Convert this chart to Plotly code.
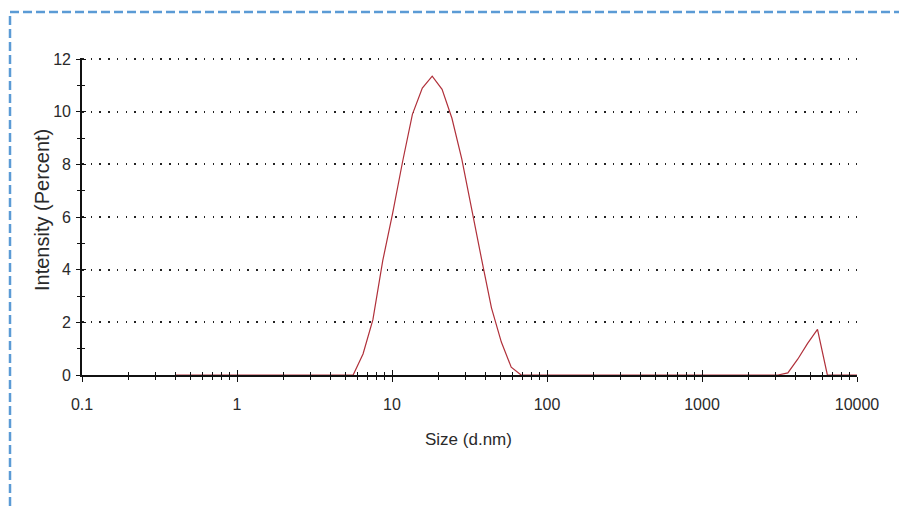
import plotly.graph_objects as go

# Size classes (d.nm) of the intensity distribution
size_nm = [0.4, 0.4632, 0.5365, 0.6213, 0.7195, 0.8332, 0.9649, 1.117, 1.294, 1.499,
           1.736, 2.01, 2.328, 2.696, 3.122, 3.615, 4.187, 4.849, 5.615, 6.503,
           7.531, 8.721, 10.1, 11.7, 13.54, 15.69, 18.17, 21.04, 24.36, 28.21,
           32.67, 37.84, 43.82, 50.75, 58.77, 68.06, 78.82, 91.28, 105.7, 122.4,
           141.8, 164.2, 190.1, 220.2, 255.0, 295.3, 342.0, 396.1, 458.7, 531.2,
           615.1, 712.4, 825.0, 955.4, 1106, 1281, 1484, 1718, 1990, 2305,
           2669, 3091, 3580, 4145, 4801, 5560, 6439, 7456, 8635, 10000]

# Intensity (%) in each size class
intensity_pct = [0, 0, 0, 0, 0, 0, 0, 0, 0, 0,
                 0, 0, 0, 0, 0, 0, 0, 0, 0, 0.8,
                 2.1, 4.35, 6.15, 8.1, 9.9, 10.9, 11.35, 10.85, 9.75, 8.2,
                 6.25, 4.4, 2.55, 1.25, 0.3, 0, 0, 0, 0, 0,
                 0, 0, 0, 0, 0, 0, 0, 0, 0, 0,
                 0, 0, 0, 0, 0, 0, 0, 0, 0, 0,
                 0, 0, 0.08, 0.6, 1.2, 1.73, 0, 0, 0, 0]

x_tick_vals = [0.1, 1, 10, 100, 1000, 10000]
x_tick_text = ["0.1", "1", "10", "100", "1000", "10000"]
x_minor_vals = [m * 10 ** e for e in range(-1, 4) for m in range(2, 10)]

W, H = 899, 507
ML, MR, MT, MB = 82, 42, 58, 132
PW, PH = W - ML - MR, H - MT - MB


def px_x(px):
    return (px - ML) / PW


def px_y(py):
    return (H - MB - py) / PH


FAMILY = "Liberation Sans, Arial, sans-serif"
TICK_FONT = dict(family=FAMILY, size=16, color="#2a2a2a")
AX = "#111111"
Y_TOP = 12.04  # keeps the 12 gridline from sitting on the plot edge

fig = go.Figure()

fig.add_trace(go.Scatter(
    x=size_nm, y=intensity_pct, mode="lines",
    line=dict(color="#b0303a", width=1.2),
    showlegend=False, hoverinfo="x+y",
))
# companion trace on the overlay axes (carries the inner half of the tick marks)
fig.add_trace(go.Scatter(
    x=size_nm, y=intensity_pct, mode="lines", xaxis="x2", yaxis="y2",
    line=dict(color="rgba(0,0,0,0)", width=0), showlegend=False, hoverinfo="skip",
))

fig.update_layout(
    width=W, height=H,
    margin=dict(l=ML, r=MR, t=MT, b=MB),
    paper_bgcolor="white", plot_bgcolor="white",
    xaxis=dict(
        type="log", range=[-1, 4],
        tickvals=x_tick_vals, ticktext=x_tick_text,
        ticks="outside", ticklen=5, tickwidth=1.4, tickcolor=AX,
        minor=dict(tickvals=x_minor_vals, ticks="outside", ticklen=3, tickwidth=1.3,
                   tickcolor=AX, showgrid=False),
        showline=True, linecolor=AX, linewidth=1.7,
        showgrid=False, zeroline=False,
        tickfont=TICK_FONT, ticklabelstandoff=9,
    ),
    xaxis2=dict(
        type="log", range=[-1, 4], overlaying="x", anchor="y", side="bottom",
        tickvals=x_tick_vals, ticks="inside", ticklen=5, tickwidth=1.4, tickcolor=AX,
        minor=dict(tickvals=x_minor_vals, ticks="inside", ticklen=3, tickwidth=1.3,
                   tickcolor=AX, showgrid=False),
        showticklabels=False, showline=False, showgrid=False, zeroline=False,
    ),
    yaxis=dict(
        range=[0, Y_TOP], dtick=2, tick0=0,
        ticks="outside", ticklen=4, tickwidth=1.4, tickcolor=AX,
        minor=dict(dtick=1, ticks="outside", ticklen=3, tickwidth=1.3, tickcolor=AX,
                   showgrid=False),
        showline=True, linecolor=AX, linewidth=1.7,
        showgrid=True, gridcolor="#222222", gridwidth=1.5, griddash="1.5px,7.2px",
        zeroline=False,
        tickfont=TICK_FONT, ticklabelstandoff=2,
    ),
    yaxis2=dict(
        range=[0, Y_TOP], dtick=2, tick0=0, overlaying="y", anchor="x", side="left",
        ticks="inside", ticklen=4, tickwidth=1.4, tickcolor=AX,
        minor=dict(dtick=1, ticks="inside", ticklen=3, tickwidth=1.3, tickcolor=AX,
                   showgrid=False),
        showticklabels=False, showline=False, showgrid=False, zeroline=False,
    ),
    annotations=[
        dict(text="Size (d.nm)", xref="paper", yref="paper",
             x=px_x(468), y=px_y(439), xanchor="center", yanchor="middle",
             showarrow=False, font=dict(family=FAMILY, size=17, color="#2a2a2a")),
        dict(text="Intensity (Percent)", xref="paper", yref="paper",
             x=px_x(42), y=px_y(210), xanchor="center", yanchor="middle",
             showarrow=False, textangle=-90,
             font=dict(family=FAMILY, size=20, color="#2a2a2a")),
    ],
    shapes=[
        dict(type="rect", xref="paper", yref="paper",
             x0=px_x(10), x1=px_x(915), y0=px_y(525), y1=px_y(12),
             line=dict(color="#5b9bd5", width=2.5, dash="9px,4px"),
             fillcolor="rgba(0,0,0,0)", layer="below"),
    ],
)

fig.write_html("out.html")
